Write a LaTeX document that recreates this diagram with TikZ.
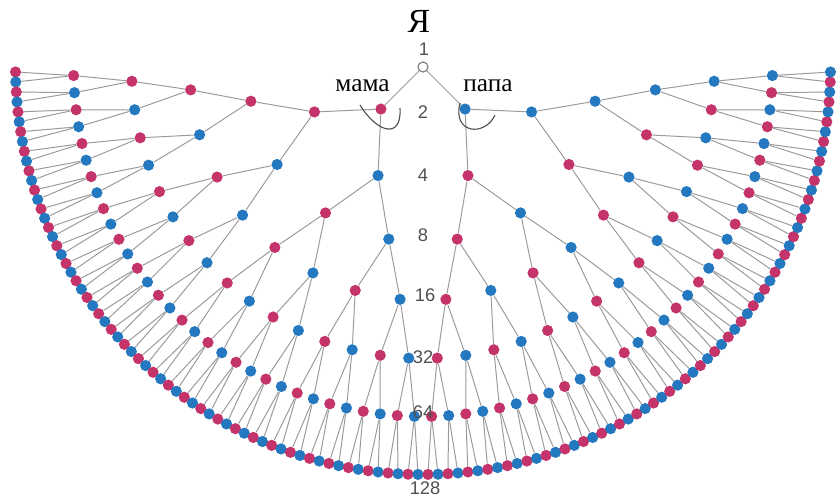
\documentclass[tikz,border=0pt]{standalone}
\usepackage{fontspec}
\setmainfont{Liberation Serif}
\newfontfamily\numfont{Liberation Sans}
\usetikzlibrary{calc}
\definecolor{mamacol}{HTML}{C4346A}
\definecolor{papacol}{HTML}{2478BF}
\definecolor{linkcol}{HTML}{9A9A9A}
\definecolor{numcol}{HTML}{505050}
\pgfdeclarelayer{bg}
\pgfsetlayers{bg,main}
\tikzset{
    person/.style={circle, inner sep=0pt, minimum size=2.8mm},
    link/.style={draw=linkcol, line width=0.7pt},
    gen/.style={font=\numfont\fontsize{13}{15}\selectfont, text=numcol, inner sep=0pt},
    kin/.style={font=\fontsize{18}{20}\selectfont, anchor=base, inner sep=0pt},
    brace/.style={draw=numcol, line width=0.8pt}
}
\begin{document}
\begin{tikzpicture}[x=0.025cm, y=0.025cm]
    \useasboundingbox (0,0) rectangle (836,499);
    \node[person, draw=linkcol!80!black, fill=white, line width=0.8pt, minimum size=2.5mm] (anc0-0) at (423,432) {};
    \foreach \k in {1,...,7} {
        \pgfmathtruncatemacro{\nn}{2^\k}
        \pgfmathtruncatemacro{\lastidx}{\nn-1}
        \pgfmathsetmacro{\rad}{58*\k+1.5}
        \foreach \i in {0,...,\lastidx} {
            \pgfmathsetmacro{\ang}{180+(\i+0.5)/\nn*180}
            \pgfmathtruncatemacro{\odd}{mod(\i,2)}
            \ifnum\odd=0 \def\col{mamacol}\else\def\col{papacol}\fi
            \node[person, fill=\col] (anc\k-\i) at ($(anc0-0)+(\ang:\rad)$) {};
        }
    }
    \begin{pgfonlayer}{bg}
        \foreach \k in {1,...,7} {
            \pgfmathtruncatemacro{\lastidx}{2^\k-1}
            \pgfmathtruncatemacro{\pk}{\k-1}
            \foreach \i in {0,...,\lastidx} {
                \pgfmathtruncatemacro{\up}{floor(\i/2)}
                \draw[link] (anc\pk-\up) -- (anc\k-\i);
            }
        }
    \end{pgfonlayer}
    \node[gen] (lab1) at (424,450) {1};
    \node[gen] (lab2) at (423,387) {2};
    \node[gen] (lab4) at (423,324) {4};
    \node[gen] (lab8) at (423,264) {8};
    \node[gen] (lab16) at (425,204) {16};
    \node[gen] (lab32) at (423,142) {32};
    \node[gen] (lab64) at (423,87) {64};
    \node[gen] (lab128) at (425,11) {128};
    \node[font=\fontsize{24}{27}\selectfont, anchor=base, inner sep=0pt] (ya) at (419,466) {Я};
    \node[kin] (mama) at (362.5,407.3) {мама};
    \node[kin] (papa) at (488,407) {папа};
    \draw[brace] (360,394) .. controls (378,365) and (402,360) .. (400,391);
    \draw[brace] (460,396) .. controls (452,365) and (485,362) .. (495,384);
\end{tikzpicture}
\end{document}
